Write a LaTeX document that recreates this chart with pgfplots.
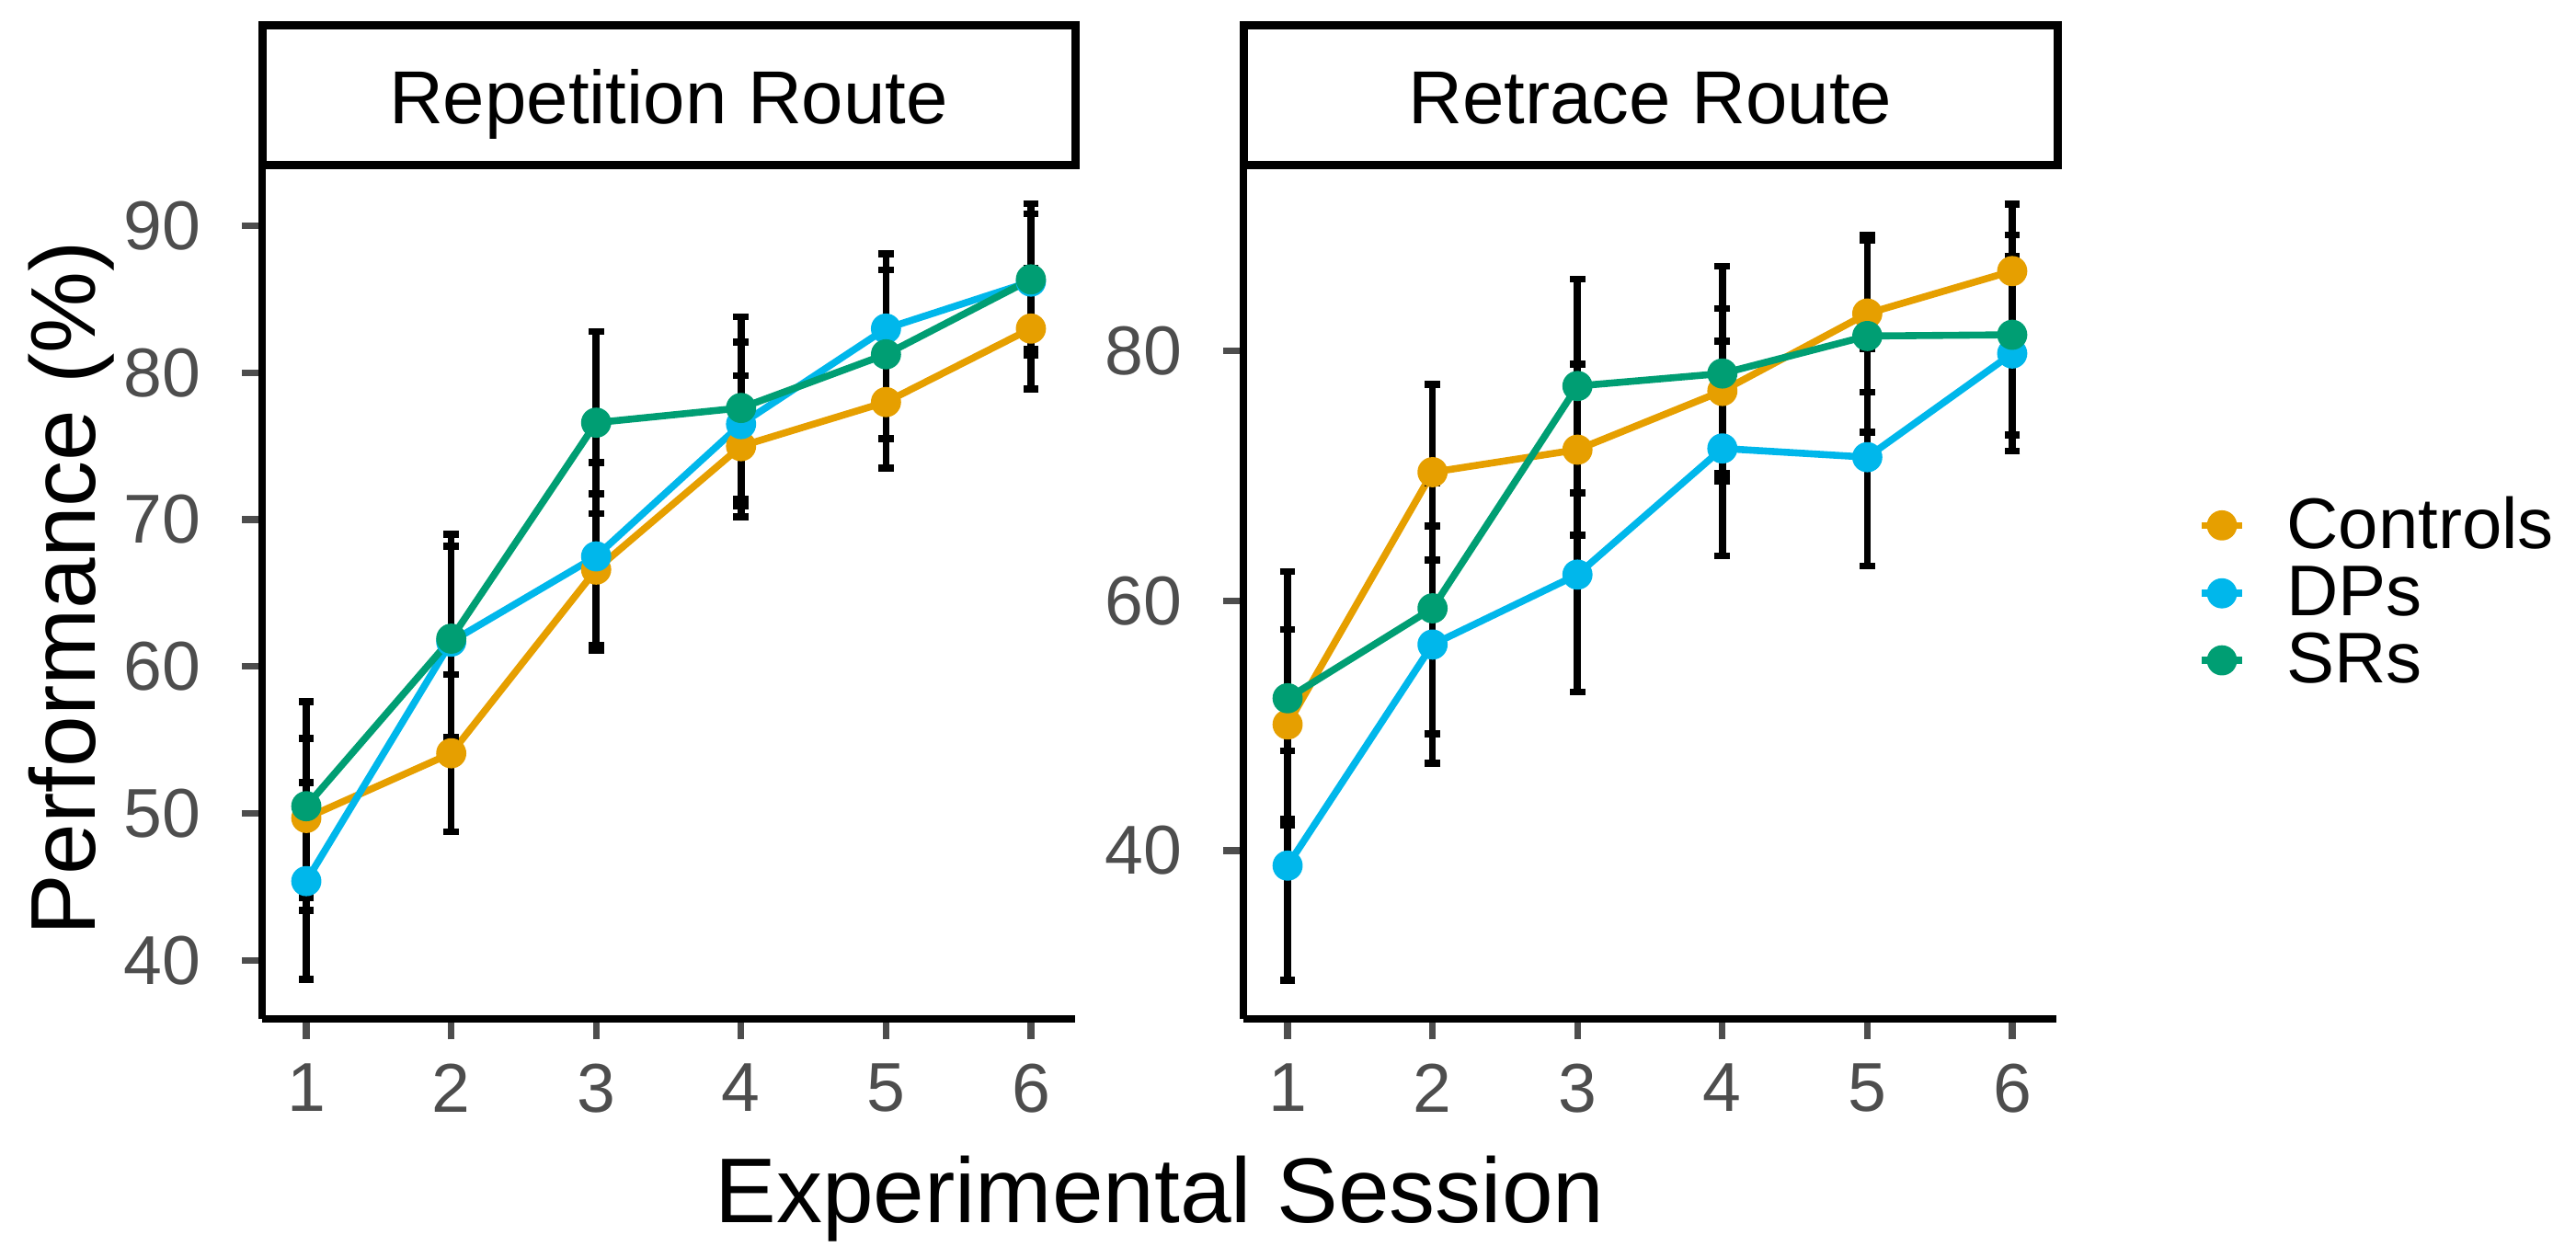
\documentclass[border=0pt]{standalone}
\usepackage{fontspec}
\setmainfont{Liberation Sans}
\usepackage{pgfplots}
\usepackage{pgfplotstable}
\pgfplotsset{compat=1.18}

\definecolor{ctrl}{HTML}{E69F00}
\definecolor{dps}{HTML}{00B7EB}
\definecolor{srs}{HTML}{009E73}
\definecolor{tickgrey}{HTML}{4D4D4D}

% session, mean and half-width of the error bar per group
\pgfplotstableread{
s  c     ce    d     de   r     re
1  49.7  5.4   45.4  6.7  50.5  7.1
2  54.1  5.35  61.7  6.5  61.9  7.1
3  66.6  5.15  67.5  6.4  76.6  6.2
4  75.0  4.8   76.5  5.6  77.6  6.2
5  78.0  4.5   83.0  5.1  81.25 5.75
6  83.0  4.1   86.2  4.6  86.35 5.15
}\rep
\pgfplotstableread{
s  c     ce    d     de   r     re
1  50.1  7.6   38.8  9.2  52.2  10.15
2  70.3  7.05  56.5  9.5  59.4  10.05
3  72.1  6.85  62.1  9.4  77.2  8.55
4  76.8  6.6   72.2  8.6  78.2  8.6
5  83.0  6.3   71.5  8.7  81.2  7.7
6  86.4  5.35  79.8  7.8  81.3  8.0
}\ret

\pgfplotsset{
  panel/.style={
    scale only axis, width=221pt, height=232.1pt,
    xmin=0.695, xmax=6.305, xtick={1,...,6},
    axis x line*=bottom, axis y line*=left,
    axis line style={line width=2pt, -},
    tick align=outside, major tick length=5.5pt,
    tick style={line width=1.8pt, tickgrey},
    ticklabel style={font=\fontsize{18.8}{20}\selectfont, text=tickgrey, inner sep=0pt},
    yticklabel style={xshift=-11pt},
    xticklabel style={yshift=-6.5pt},
    /pgf/number format/assume math mode=true,
  },
  grp/.style={line width=1.9pt, mark=*, mark size=3.9pt, mark options={solid, line width=0.4pt}},
  ebar/.style={draw=none, forget plot, error bars/.cd, y dir=both, y explicit,
    error bar style={draw=black, line width=1.9pt},
    error mark options={draw=black, line width=1.9pt, mark size=2.1pt, rotate=90}},
}

\begin{document}
\begin{tikzpicture}
\path[use as bounding box] (0,0) rectangle (700.25pt,342pt);

\begin{axis}[panel, at={(71.25pt,64.9pt)}, anchor=south west,
  ymin=36.0, ymax=94.1, ytick={40,50,...,90}]
\addplot[grp, ctrl] table[x=s, y=c] {\rep};
\addplot[grp, dps] table[x=s, y=d] {\rep};
\addplot[grp, srs] table[x=s, y=r] {\rep};
\addplot[ebar] table[x=s, y=c, y error=ce] {\rep};
\addplot[ebar] table[x=s, y=d, y error=de] {\rep};
\addplot[ebar] table[x=s, y=r, y error=re] {\rep};
\end{axis}

\begin{axis}[panel, at={(338pt,64.9pt)}, anchor=south west,
  ymin=26.5, ymax=94.85, ytick={40,60,80},
  legend style={draw=none, fill=none, at={(rel axis cs:1.174,0.5)}, anchor=west,
    inner sep=0pt, font=\fontsize{19.5}{20}\selectfont, row sep=-0.8pt},
  legend cell align=left,
  legend image code/.code={\path[draw=none, fill=none] (0pt,0pt) -- (21pt,0pt);
    \draw[mark repeat=2, mark phase=2, #1]
    plot coordinates {(0pt,0pt) (5.4pt,0pt) (10.8pt,0pt)};}]
\addplot[grp, ctrl] table[x=s, y=c] {\ret};
\addplot[grp, dps] table[x=s, y=d] {\ret};
\addplot[grp, srs] table[x=s, y=r] {\ret};
\addplot[ebar] table[x=s, y=c, y error=ce] {\ret};
\addplot[ebar] table[x=s, y=d, y error=de] {\ret};
\addplot[ebar] table[x=s, y=r, y error=re] {\ret};
\legend{Controls, DPs, SRs}
\end{axis}

% facet strips
\draw[line width=2.25pt] (71.25pt,297pt) rectangle (292.25pt,335pt);
\draw[line width=2.25pt] (338pt,297pt) rectangle (559.25pt,335pt);
\node[anchor=base, inner sep=0pt, font=\fontsize{20.4}{22}\selectfont] at (181.75pt,308.25pt) {Repetition Route};
\node[anchor=base, inner sep=0pt, font=\fontsize{20.4}{22}\selectfont] at (448.6pt,308.25pt) {Retrace Route};

% shared axis titles
\node[anchor=base, inner sep=0pt, font=\fontsize{25}{28}\selectfont] at (315.25pt,9.5pt) {Experimental Session};
\node[anchor=base, rotate=90, inner sep=0pt, font=\fontsize{25}{28}\selectfont] at (25.75pt,182pt) {Performance (\%)};
\end{tikzpicture}
\end{document}
